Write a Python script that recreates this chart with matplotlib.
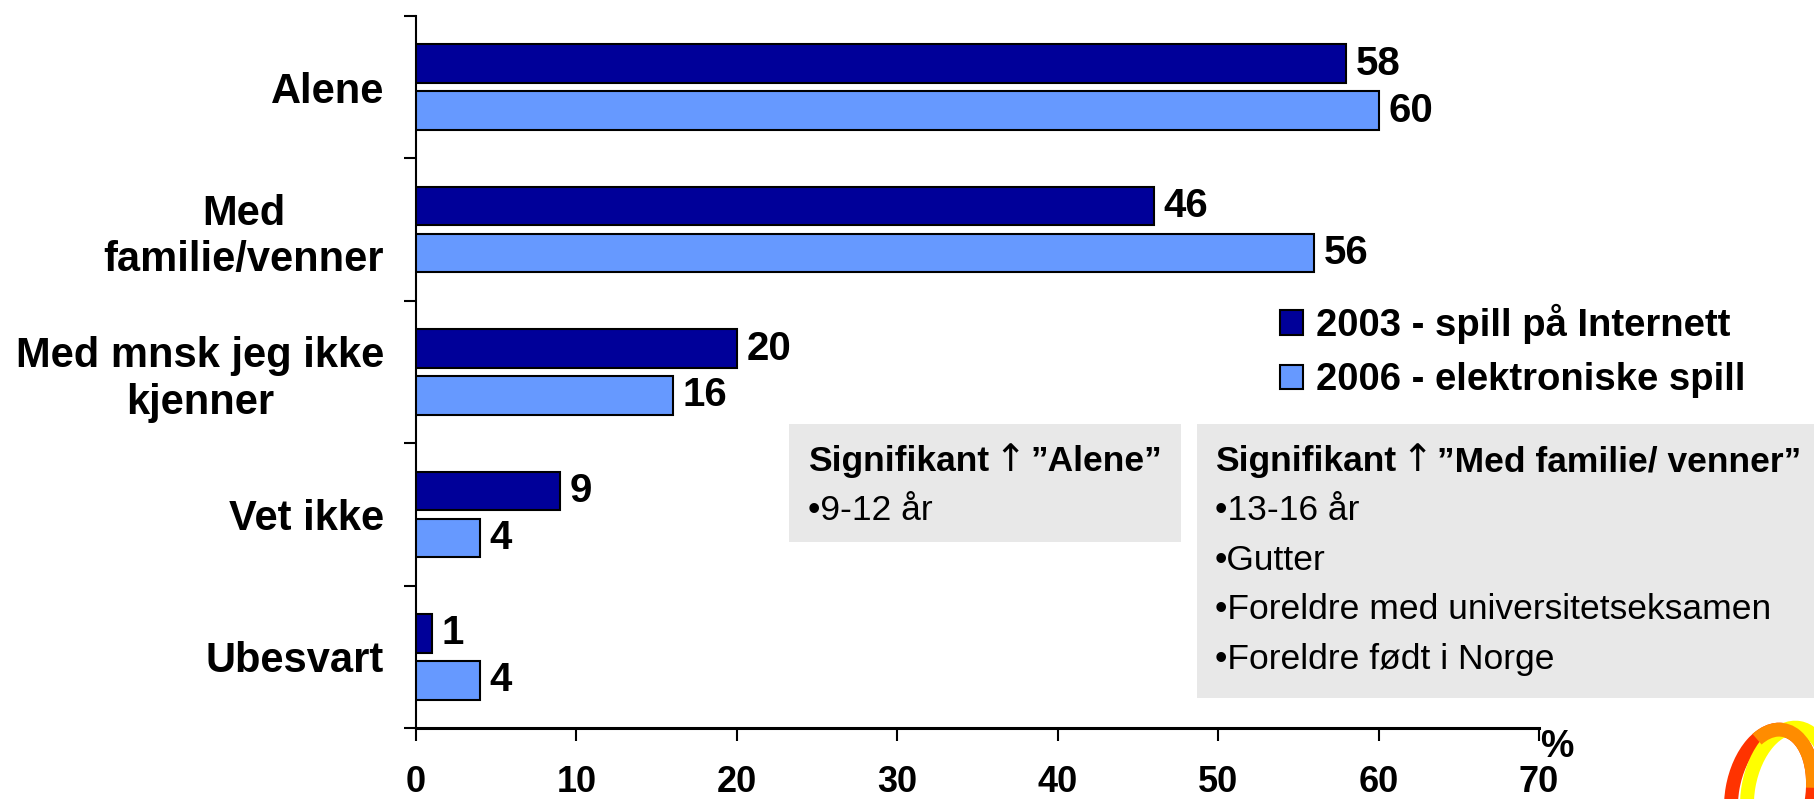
import numpy as np
import matplotlib.pyplot as plt
from matplotlib.patches import Rectangle, Ellipse, Arc
from matplotlib.transforms import IdentityTransform
from matplotlib.offsetbox import TextArea, HPacker, AnchoredOffsetbox

plt.rcParams['font.family'] = ['Liberation Sans', 'DejaVu Sans']

# data
categories = ['Alene', 'Med\nfamilie/venner', 'Med mnsk jeg ikke\nkjenner', 'Vet ikke', 'Ubesvart']
values_2003 = [58, 46, 20, 9, 1]
values_2006 = [60, 56, 16, 4, 4]
series_labels = ['2003 - spill på Internett', '2006 - elektroniske spill']
x_ticks = [0, 10, 20, 30, 40, 50, 60, 70]

box1_title = 'Signifikant ↑ ”Alene”'
box1_lines = ['•9-12 år']
box2_title = 'Signifikant ↑ ”Med familie/ venner”'
box2_lines = ['•13-16 år', '•Gutter', '•Foreldre med universitetseksamen', '•Foreldre født i Norge']

dark_blue = '#000099'
light_blue = '#6699FF'
box_gray = '#E8E8E8'

W, H = 1815, 799
fig = plt.figure(figsize=(W / 100, H / 100), dpi=100)
fig.patch.set_facecolor('white')


def fx(px):
    return px / W


def fy(py):
    return 1 - py / H


ax = fig.add_axes([fx(416), fy(728), fx(1539 - 416), (728 - 16) / H])
ax.patch.set_visible(False)

y = np.arange(len(categories))
off = 0.165
bh = 0.27
bars1 = ax.barh(y - off, values_2003, height=bh, color=dark_blue, edgecolor='black',
                linewidth=1.5, label=series_labels[0], zorder=3)
bars2 = ax.barh(y + off, values_2006, height=bh, color=light_blue, edgecolor='black',
                linewidth=1.5, label=series_labels[1], zorder=3)

for yy, v in zip(y - off, values_2003):
    ax.text(v + 0.6, yy, str(v), va='center', ha='left', fontsize=29, fontweight='bold')
for yy, v in zip(y + off, values_2006):
    ax.text(v + 0.6, yy, str(v), va='center', ha='left', fontsize=29, fontweight='bold')

ax.set_xlim(0, 70)
ax.set_ylim(len(categories) - 0.5, -0.5)
ax.set_xticks(x_ticks)
ax.set_xticklabels([str(t) for t in x_ticks], fontsize=26, fontweight='bold')
ax.set_yticks(y)
ax.set_yticklabels(categories, fontsize=30, fontweight='bold')
for lab in ax.get_yticklabels():
    lab.set_multialignment('center')
ax.set_yticks(np.arange(-0.5, len(categories), 1), minor=True)

ax.tick_params(axis='y', which='major', length=0, pad=23)
ax.tick_params(axis='y', which='minor', length=8.6, width=1.5, direction='out')
ax.tick_params(axis='x', which='major', length=9, width=1.5, direction='out', pad=18)

for s in ['top', 'right']:
    ax.spines[s].set_visible(False)
ax.spines['left'].set_linewidth(1.5)
ax.spines['bottom'].set_linewidth(2.2)

fig.text(fx(1557), fy(747), '%', fontsize=27, fontweight='bold', ha='center', va='center')

# legend
fig.legend(handles=[bars1, bars2], labels=series_labels, loc='center left',
           bbox_to_anchor=(fx(1280), fy(351)), frameon=False,
           prop={'size': 27.5, 'weight': 'bold'}, handlelength=0.6, handleheight=0.6,
           handletextpad=0.35, labelspacing=0.48, borderpad=0, borderaxespad=0)

# grey note boxes
fig.add_artist(Rectangle((fx(789), fy(542)), fx(1181 - 789), (542 - 424) / H,
                         transform=fig.transFigure, facecolor=box_gray, edgecolor='none', zorder=1))
fig.add_artist(Rectangle((fx(1197), fy(698)), fx(1815 - 1197), (698 - 424) / H,
                         transform=fig.transFigure, facecolor=box_gray, edgecolor='none', zorder=1))


def box_title(title, x, y):
    left, right = [p.strip() for p in title.split('↑')]
    parts = [
        TextArea(left, textprops=dict(fontsize=25.5, fontweight='bold')),
        TextArea('↑', textprops=dict(fontsize=27, family='DejaVu Sans')),
        TextArea(right, textprops=dict(fontsize=25.5, fontweight='bold')),
    ]
    pack = HPacker(children=parts, align='baseline', pad=0, sep=3.5)
    anchored = AnchoredOffsetbox(loc='center left', child=pack, pad=0, borderpad=0,
                                 bbox_to_anchor=(fx(x), fy(y)),
                                 bbox_transform=fig.transFigure, frameon=False)
    anchored.set_zorder(2)
    fig.add_artist(anchored)


line_step = 49.5
box_title(box1_title, 808, 461)
for i, t in enumerate(box1_lines):
    fig.text(fx(808), fy(461 + line_step * (i + 1)), t, fontsize=25.5, va='center', zorder=2)

box_title(box2_title, 1215, 461)
for i, t in enumerate(box2_lines):
    fig.text(fx(1215), fy(461 + line_step * (i + 1)), t, fontsize=25.5, va='center', zorder=2)

# logo rings in the corner (pixel coordinates, y from bottom)
px = IdentityTransform()
fig.add_artist(Ellipse((1772, H - 795), 80, 132, angle=-10, transform=px,
                       fill=False, edgecolor='#FF3300', linewidth=10, zorder=4))
fig.add_artist(Ellipse((1788, H - 793), 80, 132, angle=-10, transform=px,
                       fill=False, edgecolor='#FFFF00', linewidth=10, zorder=5))
fig.add_artist(Arc((1772, H - 795), 80, 132, angle=-10, transform=px,
                   theta1=20, theta2=115, edgecolor='#FF8C00', linewidth=10, zorder=6))

fig.savefig('out.png', dpi=100)
